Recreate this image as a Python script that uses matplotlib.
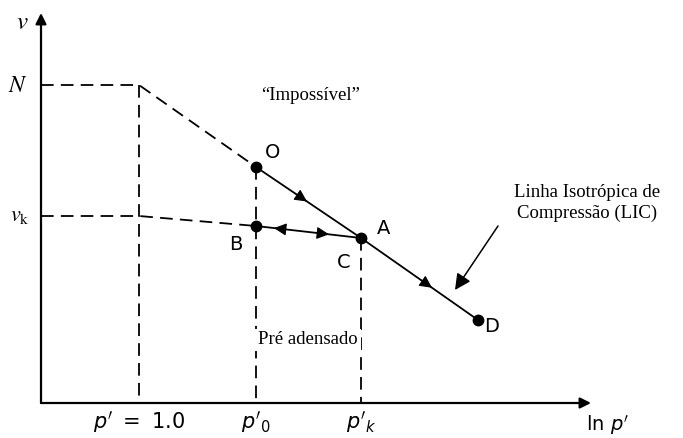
import numpy as np
import matplotlib
matplotlib.use("Agg")
import matplotlib.pyplot as plt
from matplotlib.patches import FancyArrowPatch

plt.rcParams['mathtext.fontset'] = 'stix'

# ---- schematic data (x = ln p', y = specific volume v), arbitrary units ----
lnp_one = 0.98      # p' = 1.0
lnp_0 = 2.15        # p'_0
lnp_k = 3.20        # p'_k
lnp_D = 4.37
v_N = 3.18
v_k = 1.87
v_O = 2.36
v_B = 1.77
v_C = 1.65
v_D = 0.83
x_axis_end = 5.50
y_axis_end = 3.90

ncl_x = [lnp_0, lnp_k, lnp_D]
ncl_y = [v_O, v_C, v_D]
tick_pos = [lnp_one, lnp_0, lnp_k]
tick_labels = [r"$p'\ =\ 1.0$", r"$p'_{0}$", r"$p'_{k}$"]

fig = plt.figure(figsize=(6.83, 4.38), dpi=100)
ax = fig.add_axes([41 / 683, 35 / 438, 642 / 683, 403 / 438])
ax.set_xlim(0, 6.42)
ax.set_ylim(0, 4.03)
ax.set_axis_off()

# axes with arrows
ax.add_patch(FancyArrowPatch((0, 0), (x_axis_end, 0), arrowstyle='-|>', mutation_scale=16,
                             lw=1.6, color='black', shrinkA=0, shrinkB=0, clip_on=False))
ax.add_patch(FancyArrowPatch((0, 0), (0, y_axis_end), arrowstyle='-|>', mutation_scale=16,
                             lw=1.6, color='black', shrinkA=0, shrinkB=0, clip_on=False))

dash = dict(color='black', lw=1.3, dashes=(7, 4))
ax.plot([0, lnp_one, lnp_0], [v_N, v_N, v_O], **dash)
ax.plot([0, lnp_one, lnp_0], [v_k, v_k, v_B], **dash)
ax.plot([lnp_one, lnp_one], [v_N, 0], **dash)
ax.plot([lnp_0, lnp_0], [v_O, 0], **dash)
ax.plot([lnp_k, lnp_k], [v_C, 0], **dash)

ax.plot(ncl_x, ncl_y, color='black', lw=1.3, solid_capstyle='butt')
ax.plot([lnp_0, lnp_k], [v_B, v_C], color='black', lw=1.3)

def head(x_tip, xs, ys, direction):
    y_tip = np.interp(x_tip, xs, ys)
    x_tail = x_tip - 0.12 * direction
    y_tail = np.interp(x_tail, xs, ys)
    ax.add_patch(FancyArrowPatch((x_tail, y_tail), (x_tip, y_tip), arrowstyle='-|>',
                                 mutation_scale=19, lw=0.8, color='black',
                                 shrinkA=0, shrinkB=0))

head(2.66, ncl_x, ncl_y, 1)
head(3.91, ncl_x, ncl_y, 1)
head(2.33, [lnp_0, lnp_k], [v_B, v_C], -1)
head(2.88, [lnp_0, lnp_k], [v_B, v_C], 1)

ax.plot([lnp_0, lnp_0, lnp_k, lnp_D], [v_O, v_B, v_C, v_D], 'o', color='black', ms=7.5)

sans = dict(family='DejaVu Sans', fontsize=14, color='black')
ax.text(lnp_0 + 0.17, v_O + 0.15, 'O', ha='center', va='center', **sans)
ax.text(lnp_0 - 0.20, v_B - 0.18, 'B', ha='center', va='center', **sans)
ax.text(lnp_k + 0.23, v_C + 0.09, 'A', ha='center', va='center', **sans)
ax.text(lnp_k - 0.17, v_C - 0.25, 'C', ha='center', va='center', **sans)
ax.text(lnp_D + 0.14, v_D - 0.06, 'D', ha='center', va='center', **sans)

ax.text(-0.19, 3.81, r'$v$', ha='center', va='center', fontsize=18)
ax.text(-0.23, v_N, r'$N$', ha='center', va='center', fontsize=17)
ax.text(-0.21, v_k, r'$v_{\mathrm{k}}$', ha='center', va='center', fontsize=16)

for xp, lab in zip(tick_pos, tick_labels):
    ax.text(xp, -0.19, lab, ha='center', va='center', fontsize=15,
            math_fontfamily='dejavusans')
ax.text(5.66, -0.22, r"$\mathrm{ln}\ p'$", ha='center', va='center', fontsize=14,
        math_fontfamily='dejavusans')

serif = dict(family='Liberation Serif', color='black')
ax.text(2.70, 3.07, '\u201cImpossível\u201d', ha='center', va='center', fontsize=13.5, **serif)
ax.text(2.67, 0.63, 'Pré adensado', ha='center', va='center', fontsize=13.5,
        bbox=dict(facecolor='white', edgecolor='none', pad=2), zorder=5, **serif)
ax.text(5.46, 2.00, 'Linha Isotrópica de\nCompressão (LIC)', ha='center', va='center',
        multialignment='center', fontsize=13.5, linespacing=1.35, **serif)

ax.annotate('', xy=(4.14, 1.13), xytext=(4.57, 1.77),
            arrowprops=dict(arrowstyle='-|>', mutation_scale=24, lw=1.1, color='black',
                            shrinkA=0, shrinkB=0))

fig.savefig('out.png', dpi=100)
